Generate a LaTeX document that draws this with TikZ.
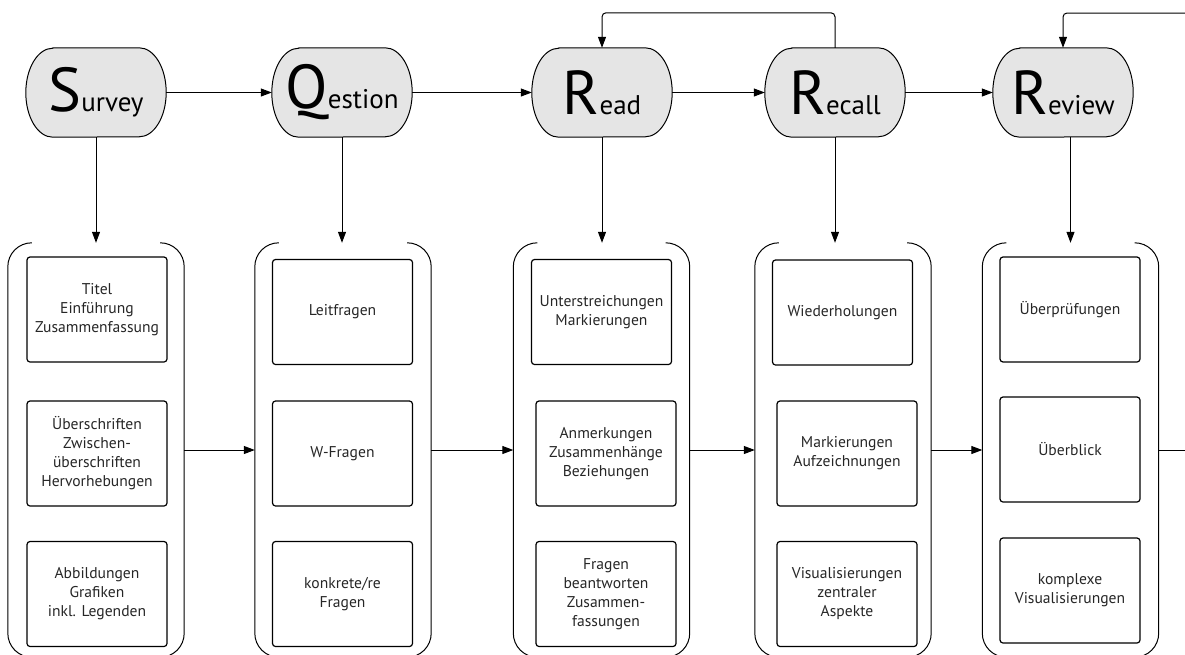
\documentclass[tikz,border=0pt]{standalone}
\usepackage{fontspec}
\setmainfont{PT Sans}
\usepackage{tikz}
\usetikzlibrary{positioning,arrows.meta,backgrounds}

\newcommand{\groupframe}[1]{%
  \draw[line width=1pt,rounded corners=24pt] ([xshift=24pt]#1.north west) -- (#1.north west) -- (#1.south west) -- ([xshift=24pt]#1.south west);
  \draw[line width=1pt,rounded corners=24pt] ([xshift=-24pt]#1.north east) -- (#1.north east) -- (#1.south east) -- ([xshift=-24pt]#1.south east);}
\newcommand{\capsule}[1]{%
  \draw[line width=1pt,fill=black!10] ([xshift=27pt]#1.north west) -- ([xshift=-27pt]#1.north east)
    arc[start angle=90,end angle=-90,x radius=27pt,y radius=44.5pt] -- ([xshift=27pt]#1.south west)
    arc[start angle=-90,end angle=-270,x radius=27pt,y radius=44.5pt] -- cycle;}
\newcommand{\steplabel}[2]{{\fontsize{62}{62}\selectfont #1}{\fontsize{27}{27}\selectfont #2}}

\begin{document}
\begin{tikzpicture}[x=1pt,y=-1pt]
	\useasboundingbox (0,0) rectangle (1185,654);
	\clip (0,0) rectangle (1185,654);
	\begin{scope}[every node/.style={rectangle,minimum width=140pt,minimum height=89pt,inner sep=0pt}]
		\node (S) at (96,92.5) {\steplabel{S}{urvey}};
		\node (Q) at (342,92.5) {\steplabel{Q}{estion}};
		\node (R1) at (602,92.5) {\steplabel{R}{ead}};
		\node (R2) at (835,92.5) {\steplabel{R}{ecall}};
		\node (R3) at (1063,92.5) {\steplabel{R}{eview}};
	\end{scope}
	\begin{scope}[on background layer]
		\capsule{S}
		\capsule{Q}
		\capsule{R1}
		\capsule{R2}
		\capsule{R3}
	\end{scope}
	\begin{scope}[every node/.style={minimum width=176pt,minimum height=414pt,inner sep=0pt}]
		\node (G1) at (96,450) {};
		\node (G2) at (343,450) {};
		\node (G3) at (601.5,450) {};
		\node (G4) at (843,450) {};
		\node (G5) at (1070.5,450) {};
	\end{scope}
	\groupframe{G1}
	\groupframe{G2}
	\groupframe{G3}
	\groupframe{G4}
	\groupframe{G5}
	\begin{scope}[every node/.style={rectangle,draw,line width=1.2pt,rounded corners=3pt,minimum width=140pt,minimum height=105pt,align=center,text=black!85,font=\fontsize{15.6}{19}\selectfont}]
		\node (A1) at (97,309.5) {Titel\\Einführung\\Zusammenfassung};
		\node (A2) at (97,453.5) {Überschriften\\Zwischen-\\überschriften\\Hervorhebungen};
		\node (A3) at (97,594) {Abbildungen\\Grafiken\\inkl. Legenden};
		\node (B1) at (342.5,312) {Leitfragen};
		\node (B2) at (342.5,453.5) {W-Fragen};
		\node (B3) at (342.5,594) {konkrete/re\\Fragen};
		\node (C1) at (601.5,312) {Unterstreichungen\\Markierungen};
		\node (C2) at (606,453.5) {Anmerkungen\\Zusammenhänge\\Beziehungen};
		\node (C3) at (606,594) {Fragen\\beantworten\\Zusammen-\\fassungen};
		\node (D1) at (842.5,312.5) {Wiederholungen};
		\node (D2) at (847,453.5) {Markierungen\\Aufzeichnungen};
		\node (D3) at (847,594) {Visualisierungen\\zentraler\\Aspekte};
		\node (E1) at (1070,309.5) {Überprüfungen};
		\node (E2) at (1070,449.5) {Überblick};
		\node (E3) at (1070,590.5) {komplexe\\Visualisierungen};
	\end{scope}
	\coordinate (back) at (1190,13);
	\coordinate (exit) at (1190,450);
	\begin{scope}[>={Stealth[length=11pt,width=8pt,inset=0pt]},
              every edge/.style={draw=black,line width=1pt}]
		\path [->] (S) edge (Q);
		\path [->] (Q) edge (R1);
		\path [->] (R1) edge (R2);
		\path [->] (R2) edge (R3);
		\path [->] (S.south) edge (S.south |- G1.north);
		\path [->] (Q.south) edge (Q.south |- G2.north);
		\path [->] (R1.south) edge (R1.south |- G3.north);
		\path [->] (R2.south) edge (R2.south |- G4.north);
		\path [->] (R3.south -| G5.north) edge (G5.north);
		\path [->] (G1) edge (G2);
		\path [->] (G2) edge (G3);
		\path [->] (G3) edge (G4);
		\path [->] (G4) edge (G5);
		\path (G5) edge (exit);
		\draw [->,line width=1pt,rounded corners=4pt] (R2.north) -- ++(0,-35) -| (R1.north);
		\draw [->,line width=1pt,rounded corners=4pt] (back) -| (R3.north);
	\end{scope}
\end{tikzpicture}
\end{document}
